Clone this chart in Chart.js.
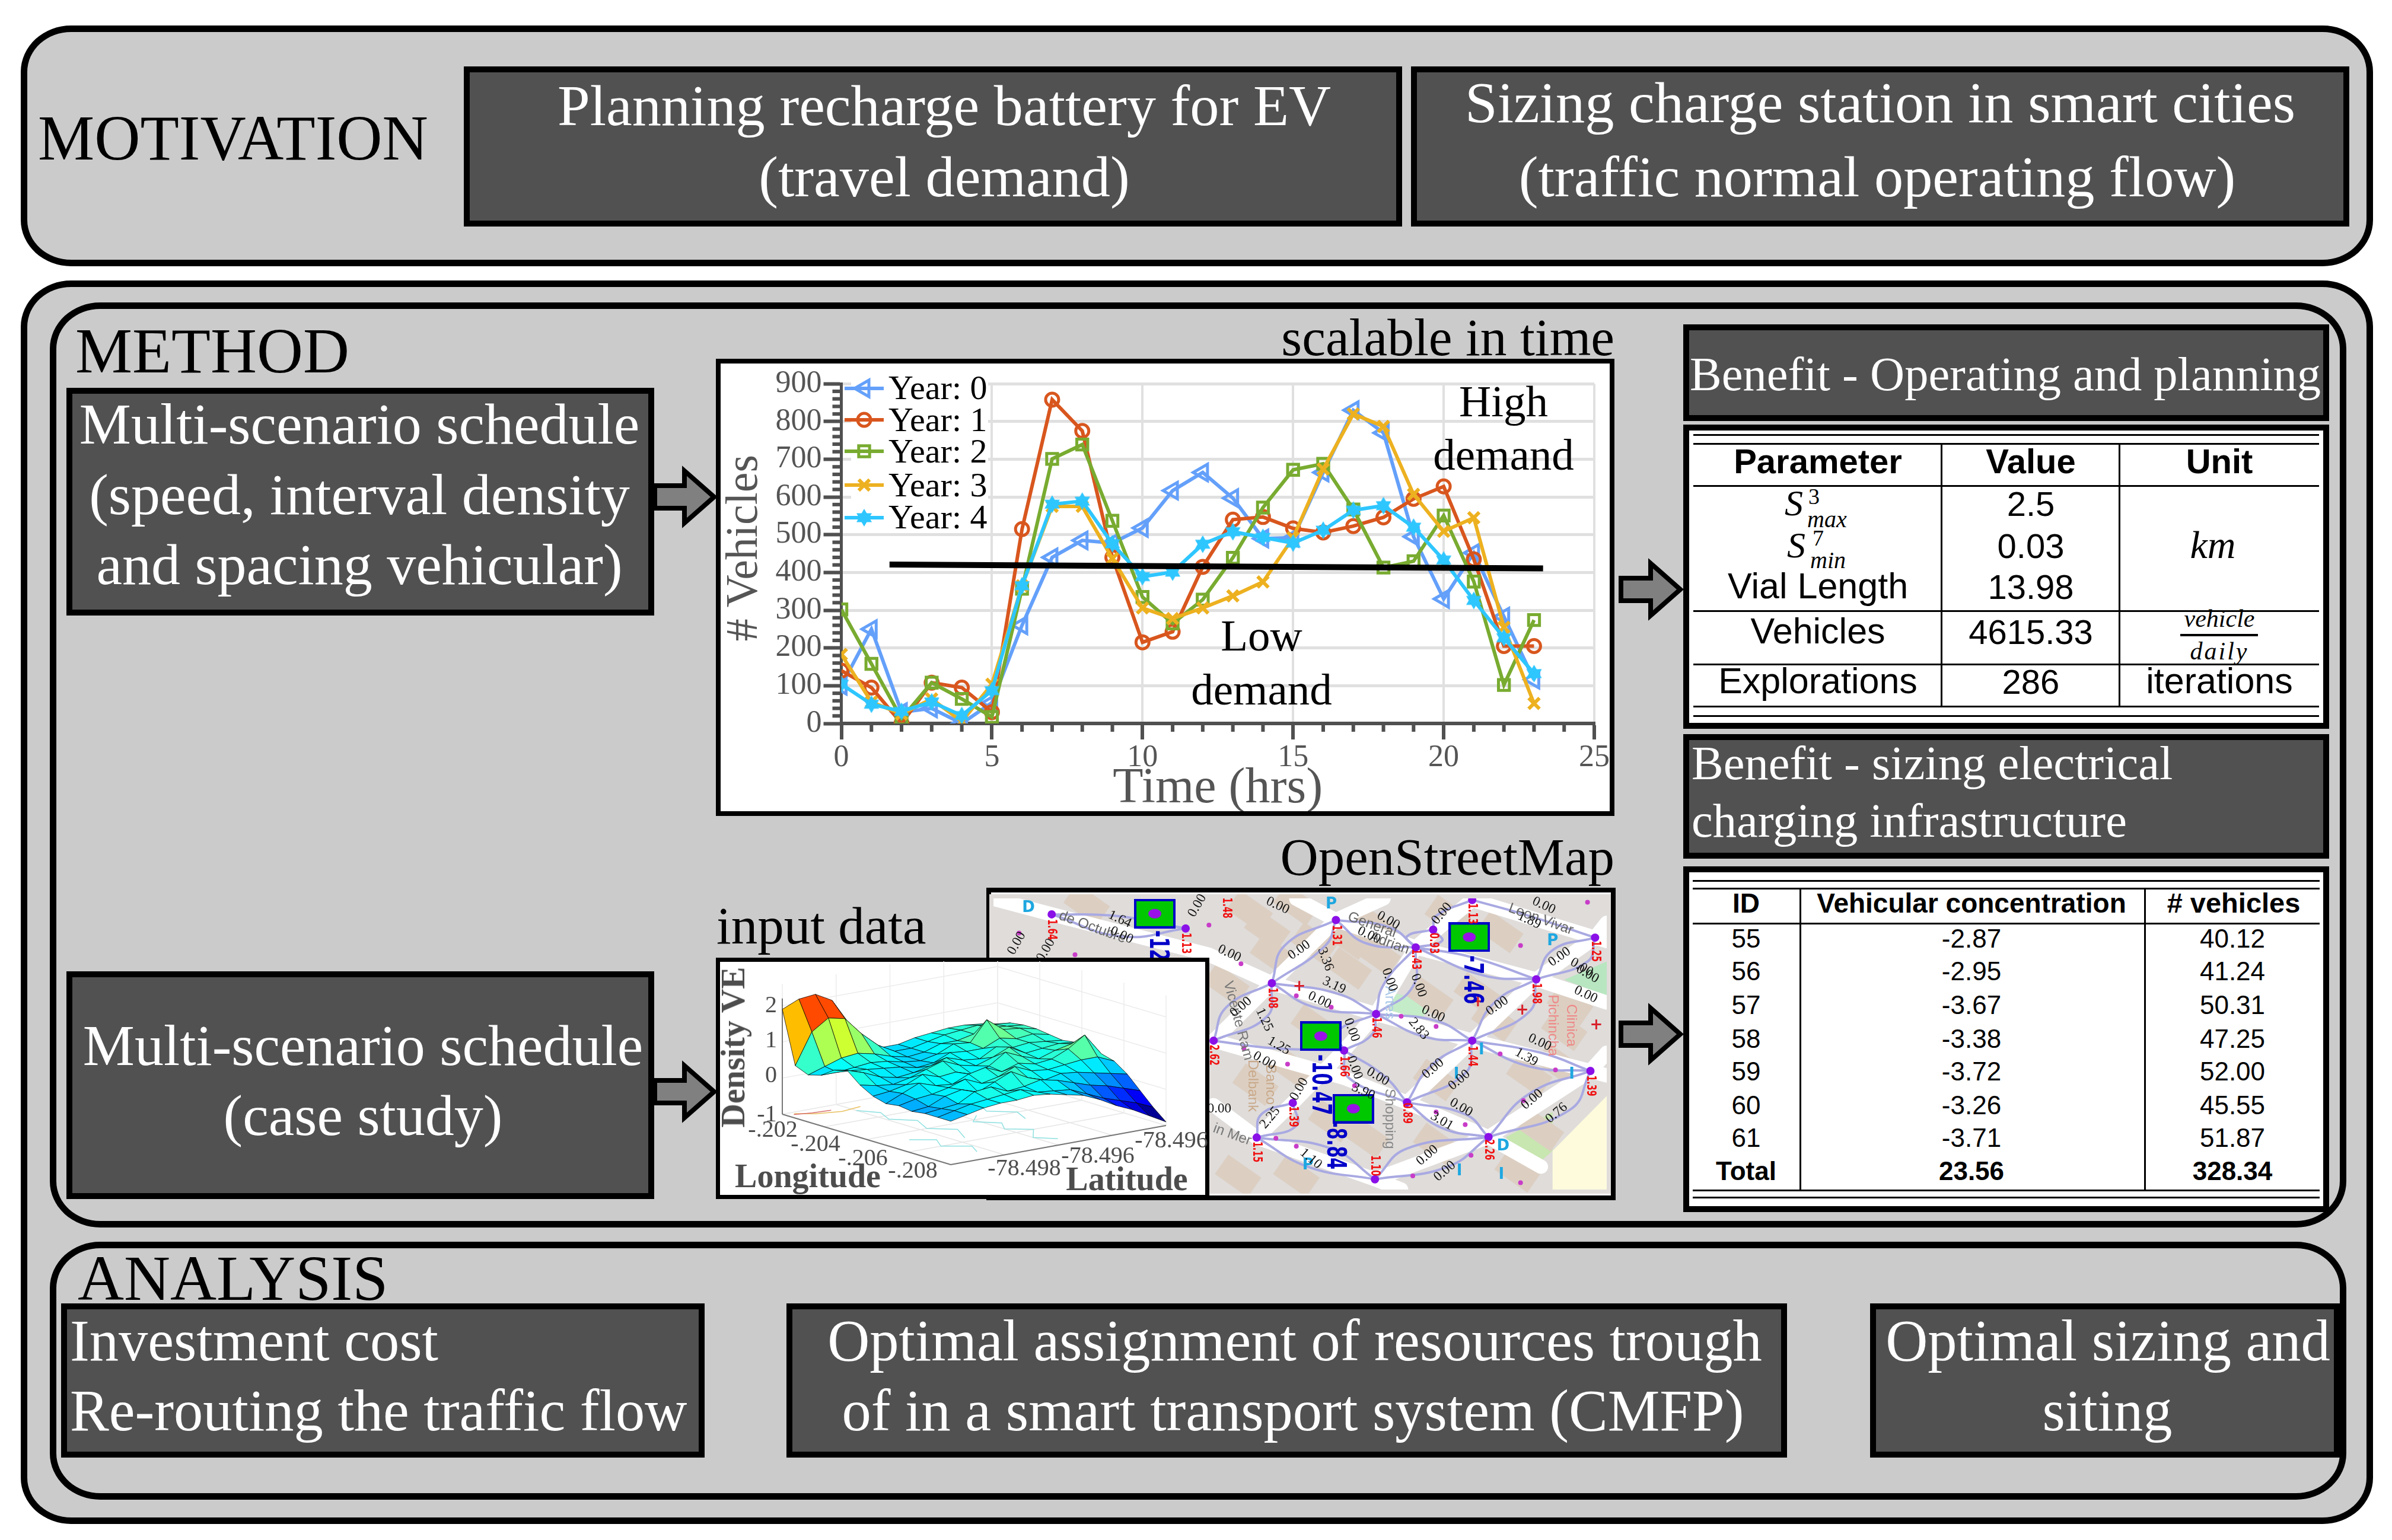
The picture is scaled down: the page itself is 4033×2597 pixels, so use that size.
<!DOCTYPE html>
<html>
<head>
<meta charset="utf-8">
<title>Motivation, method and analysis</title>
<script src="https://cdn.jsdelivr.net/npm/chart.js@4/dist/chart.umd.js"></script>
<style>
  html, body { margin: 0; padding: 0; background: #fff; }
  #page { position: relative; width: 4033px; height: 2597px; overflow: hidden; }
  .box { position: absolute; box-sizing: border-box; border-style: solid; border-color: #000; }
  .txt { position: absolute; white-space: pre; line-height: 1; }
  canvas { position: absolute; }
</style>
</head>
<body>
<div id="page"></div>
<script>
// vehicles per hour for each year
const hours = [0, 1, 2, 3, 4, 5, 6, 7, 8, 9, 10, 11, 12, 13, 14, 15, 16, 17, 18, 19, 20, 21, 22, 23];
const year0 = [100, 250, 30, 40, 0, 55, 260, 440, 485, 478, 518, 617, 665, 597, 490, 492, 665, 830, 770, 495, 330, 452, 283, 116];
const year1 = [140, 95, 0, 108, 95, 30, 515, 858, 775, 440, 215, 243, 415, 540, 547, 517, 506, 523, 546, 595, 628, 435, 205, 205];
const year2 = [302, 158, 13, 108, 65, 17, 357, 701, 739, 537, 335, 265, 328, 439, 572, 672, 688, 567, 413, 430, 551, 376, 102, 274];
const year3 = [183, 57, 25, 65, 5, 104, 365, 575, 575, 437, 306, 278, 306, 338, 375, 492, 674, 820, 787, 607, 509, 545, 255, 53];
const year4 = [104, 51, 32, 57, 21, 87, 365, 581, 589, 476, 389, 401, 475, 508, 493, 478, 512, 565, 577, 520, 433, 326, 227, 132];
const yearNames = ["Year: 0", "Year: 1", "Year: 2", "Year: 3", "Year: 4"];
const demandLineHours = [1.6, 23.3];
const demandLineValues = [421, 411];

// table 1
const paramRows = ["Vial Length", "Vehicles", "Explorations"];
const paramValues = ["2.5", "0.03", "13.98", "4615.33", "286"];

// table 2
const stationIds = ["55", "56", "57", "58", "59", "60", "61"];
const stationConcentration = ["-2.87", "-2.95", "-3.67", "-3.38", "-3.72", "-3.26", "-3.71"];
const stationVehicles = ["40.12", "41.24", "50.31", "47.25", "52.00", "45.55", "51.87"];
const stationTotals = ["Total", "23.56", "328.34"];

// density surface, one row per longitude step, one column per latitude step
const density = [
  [1.9, 2.1, 2.15, 1.9, 1.2, .7, .35, .35, .45, .5, .55, .55, .5, .4],
  [.45, 1.3, 1.6, 1.5, 1.0, .6, .35, .35, .45, .55, .6, .65, .6, .55],
  [.3, .45, .6, .65, .55, .4, .3, .35, .5, .5, .6, .7, .65, .6],
  [.4, .4, .45, .5, .45, .35, .3, .4, .6, .55, 1.1, .75, .7, .6],
  [.65, .55, .5, .45, .4, .3, .35, .55, .5, .5, .7, .6, .65, .55],
  [.75, .6, .4, .3, .35, .45, .6, .45, .4, .65, .55, .6, .55, .5],
  [.45, .35, .3, .4, .55, .7, .5, .4, .55, .75, .5, .55, .6, .55],
  [.25, .3, .4, .6, .45, .5, .35, .5, .8, .6, .45, .6, .7, .45],
  [.15, .35, .55, .4, .35, .55, .65, .45, .6, .5, .55, .75, 1.05, .45],
  [.2, .3, .35, .45, .6, .4, .5, .7, .5, .45, .5, .55, .55, .35],
  [.15, .2, .4, .5, .35, .55, .75, .5, .35, .45, .4, .3, .2, .1],
  [.2, .25, .3, .55, .6, .4, .45, .55, .45, .3, .15, .05, -.1, -.25],
  [.2, .3, .4, .45, .5, .55, .4, .35, .3, .1, -.1, -.25, -.4, -.6],
  [.2, .3, .4, .45, .45, .5, .45, .35, .25, .05, -.2, -.4, -.65, -.9]
];
// contour lines on the floor of the surface plot (longitude step, latitude step as 0-1)
const floorContours = [
  [[.12, .25], [.2, .3], [.3, .26], [.38, .33], [.5, .28], [.58, .36], [.7, .3]],
  [[.45, .55], [.52, .48], [.6, .55], [.68, .5], [.75, .58], [.85, .5], [.92, .56]],
  [[.6, .12], [.66, .2], [.75, .15], [.82, .24], [.9, .2]],
  [[.25, .6], [.33, .66], [.42, .62], [.5, .7], [.6, .66]]
];
const floorContoursWarm = [[[.02, .04], [.07, .1], [.1, .2], [.08, .3]], [[.03, .03], [.05, .1], [.06, .18]]];

// street map: nodes, roads and labels in map units
const mapNodes = [[580, 293], [810, 355], [1068, 318], [1205, 438], [1235, 360], [1302, 230], [1513, 395], [1412, 578], [958, 595], [1137, 730], [1302, 847], [858, 847], [1082, 890], [1505, 980], [1190, 1118], [994, 1120], [932, 1272], [1330, 1270], [1135, 1455]];
const mapRoads = [
  [[480, 225], [580, 293], [850, 470], [958, 595], [1137, 730], [1302, 847], [1505, 980], [1533, 1000]],
  [[858, 847], [1082, 1010], [1190, 1118], [1330, 1270], [1420, 1400]],
  [[1000, 225], [1068, 318], [1205, 438], [1412, 578], [1533, 680]],
  [[1302, 230], [1513, 395], [1533, 410]],
  [[858, 1130], [932, 1272], [1135, 1455], [1180, 1500]],
  [[958, 595], [1068, 318], [1150, 223]],
  [[858, 847], [958, 595]],
  [[1137, 730], [1205, 438], [1302, 230]],
  [[994, 1120], [1082, 890], [1137, 730]],
  [[1190, 1118], [1302, 847], [1412, 578], [1513, 395], [1533, 330]],
  [[1330, 1270], [1505, 980], [1533, 900]],
  [[1135, 1455], [1330, 1270]],
  [[932, 1272], [994, 1120]]
];
const mapEdges = [
  [[580, 293], [700, 390], [810, 355]], [[580, 293], [690, 300], [810, 355]],
  [[958, 595], [1050, 430], [1068, 318]], [[958, 595], [980, 430], [1068, 318]],
  [[1068, 318], [1120, 420], [1205, 438]], [[1068, 318], [1160, 350], [1205, 438]],
  [[1205, 438], [1150, 600], [1137, 730]], [[1205, 438], [1200, 610], [1137, 730]],
  [[1205, 438], [1320, 560], [1412, 578]], [[1205, 438], [1300, 480], [1412, 578]],
  [[1412, 578], [1440, 450], [1513, 395]], [[1412, 578], [1500, 500], [1513, 395]],
  [[1302, 230], [1240, 300], [1235, 360]], [[1302, 230], [1400, 300], [1513, 395]],
  [[958, 595], [1030, 700], [1137, 730]], [[958, 595], [1070, 640], [1137, 730]],
  [[1137, 730], [1220, 830], [1302, 847]], [[1137, 730], [1240, 760], [1302, 847]],
  [[1302, 847], [1340, 680], [1412, 578]], [[1302, 847], [1400, 720], [1412, 578]],
  [[1302, 847], [1400, 960], [1505, 980]], [[1302, 847], [1420, 900], [1505, 980]],
  [[958, 595], [880, 700], [858, 847]], [[958, 595], [950, 740], [858, 847]],
  [[858, 847], [960, 880], [1082, 890]], [[1137, 730], [1130, 820], [1082, 890]], [[1137, 730], [1070, 810], [1082, 890]],
  [[1190, 1118], [1290, 990], [1302, 847]], [[1190, 1118], [1230, 960], [1302, 847]],
  [[1190, 1118], [1250, 1230], [1330, 1270]], [[1190, 1118], [1290, 1170], [1330, 1270]],
  [[1330, 1270], [1400, 1080], [1505, 980]], [[1330, 1270], [1470, 1150], [1505, 980]],
  [[1135, 1455], [1190, 1320], [1330, 1270]], [[1135, 1455], [1260, 1400], [1330, 1270]],
  [[932, 1272], [1060, 1320], [1135, 1455]], [[932, 1272], [1020, 1400], [1135, 1455]],
  [[932, 1272], [940, 1170], [994, 1120]], [[932, 1272], [1000, 1220], [994, 1120]],
  [[1082, 890], [1090, 1010], [1190, 1118]], [[1082, 890], [1150, 1000], [1190, 1118]],
  [[1235, 360], [1190, 390], [1205, 438]], [[1235, 360], [1250, 410], [1205, 438]]
];
const mapStops = [[524, 375], [620, 470], [850, 340], [905, 510], [1000, 650], [1060, 700], [1180, 740], [1240, 785], [1350, 905], [1445, 975], [910, 880], [985, 950], [1100, 1045], [1240, 1160], [1290, 1215], [965, 1275], [1000, 1310], [1300, 1350], [1200, 1440], [1385, 430], [1500, 240], [1390, 1110], [1385, 1470]];
const mapBlocks = [[640, 250], [920, 280], [1000, 250], [950, 360], [1030, 420], [1130, 340], [960, 470], [1090, 530], [1140, 470], [1260, 300], [1350, 370], [1310, 640], [1470, 690], [1030, 780], [1230, 660], [1340, 760], [1460, 800], [930, 1040], [1000, 980], [1240, 1020], [1400, 1000], [1450, 950], [1060, 1200], [1120, 1270], [1240, 1300], [1420, 1240], [1380, 1420], [1000, 1440], [900, 1440], [1090, 400], [880, 600]];
const mapParks = [
  [[1170, 640], [1235, 680], [1215, 750], [1160, 720]],
  [[1460, 580], [1533, 500], [1533, 650]],
  [[1360, 1270], [1440, 1160], [1440, 1330], [1400, 1420]],
  [[1440, 1330], [1533, 1090], [1533, 1500], [1440, 1500]]
];
const edgeLabels = [[697, 315, "1.64", 25], [700, 385, "0.00", 25], [520, 420, "0.00", -60], [570, 450, "0.00", -60], [830, 255, "0.00", -60], [885, 465, "0.00", 25], [968, 255, "0.00", 25], [1005, 450, "0.00", -35], [1050, 490, "3.36", 70], [1158, 320, "0.00", 30], [1125, 385, "0.00", 25], [1250, 290, "0.00", -50], [1425, 255, "0.00", 25], [1400, 320, "1.89", 25], [1452, 480, "0.00", -35], [1065, 605, "3.19", 25], [1040, 670, "0.00", 25], [1160, 580, "0.00", 70], [1210, 605, "0.00", 70], [1235, 730, "0.00", 25], [1497, 645, "0.00", 25], [1345, 695, "0.00", -35], [905, 700, "0.00", -40], [945, 755, "1.25", 65], [1210, 795, "2.83", 50], [1095, 800, "0.00", 70], [970, 870, "1.25", 30], [1418, 855, "0.00", 25], [1395, 920, "1.39", 30], [945, 935, "0.00", 30], [1140, 1005, "0.00", 30], [1100, 965, "0.00", 70], [1235, 970, "0.00", -40], [1280, 1020, "0.00", -40], [1005, 1060, "0.00", -60], [1115, 1070, "3.90", 25], [1283, 1140, "0.00", 30], [1405, 1105, "0.00", -40], [1250, 1200, "3.01", 30], [1447, 1165, "0.76", -40], [955, 1185, "2.25", -50], [1225, 1350, "0.00", -40], [1255, 1420, "0.00", -40], [1025, 1365, "1.10", 40], [868, 1145, "0.00", 0], [1500, 555, "0.00", 30], [1490, 525, "0.00", 30]];
const nodeLabels = [[580, 360, "1.64"], [810, 420, "1.13"], [1068, 385, "1.31"], [1205, 490, "1.43"], [1235, 420, "0.93"], [1302, 290, "1.13"], [1513, 455, "1.25"], [1412, 640, "1.98"], [958, 660, "1.08"], [1137, 790, "1.46"], [1302, 915, "1.44"], [858, 910, "2.62"], [1082, 960, "1.66"], [1505, 1045, "1.39"], [1190, 1165, "0.89"], [994, 1180, "1.39"], [932, 1335, "1.15"], [1330, 1325, "2.26"], [1135, 1395, "1.10"], [880, 265, "1.48"]];
const streetLabels = [[650, 350, "de Octubre", 20, "#666"], [1130, 340, "General", 20, "#666"], [1160, 420, "Adrian", 20, "#666"], [1420, 315, "Leon Vivar", 20, "#666"], [900, 760, "Vicente Ram", 75, "#777"], [1440, 780, "Pichincha", 90, "#e88"], [1472, 780, "Clinica", 90, "#e88"], [925, 1045, "Delbank", 90, "#c9a98a"], [955, 1040, "Banco", 90, "#c9a98a"], [1160, 1190, "Shopping", 90, "#888"], [1160, 680, "Artes", 90, "#a9c8e8"], [890, 1260, "in Mer", 20, "#777"]];
const mapIcons = [[540, 265, "D", "#1ea7e0"], [1060, 250, "P", "#1ea7e0"], [1440, 410, "P", "#1ea7e0"], [1020, 1395, "P", "#1ea7e0"], [1355, 1310, "D", "#1ea7e0"], [1318, 890, "I", "#1ea7e0"], [1275, 995, "I", "#1ea7e0"], [1473, 995, "I", "#1ea7e0"], [1280, 1420, "I", "#1ea7e0"], [1352, 1435, "I", "#1ea7e0"], [1005, 610, "+", "#d8202a"], [1388, 715, "+", "#d8202a"], [1515, 780, "+", "#d8202a"], [1312, 680, "+", "#d8202a"]];
const stationMarkers = [[757, 290], [1297, 393], [1042, 827], [1098, 1145]];
const stationLabels = [[760, 470, "-12.0"], [1300, 580, "-7.46"], [1040, 1040, "-10.47"], [1065, 1305, "-8.84"]];

const page = document.getElementById("page");

// draw a bordered rectangle on the page
function box(x0, y0, x1, y1, bg, border, radius) {
  const d = document.createElement("div");
  d.className = "box";
  d.style.left = x0 + "px";
  d.style.top = y0 + "px";
  d.style.width = (x1 - x0) + "px";
  d.style.height = (y1 - y0) + "px";
  d.style.background = bg;
  d.style.borderWidth = border + "px";
  if (radius) d.style.borderRadius = radius;
  page.appendChild(d);
}

// text with its baseline at y; align is left, center or right
function text(str, x, y, size, color, align, extra) {
  const d = document.createElement("div");
  d.className = "txt";
  d.textContent = str;
  d.style.left = x + "px";
  d.style.top = (y - 0.81 * size) + "px";
  d.style.fontSize = size + "px";
  d.style.fontFamily = "'Liberation Serif'";
  d.style.color = color;
  if (align == "center") d.style.transform = "translateX(-50%)";
  if (align == "right") d.style.transform = "translateX(-100%)";
  if (extra) Object.assign(d.style, extra);
  page.appendChild(d);
  return d;
}

function sans(str, x, y, size, bold) {
  const d = text(str, x, y, size, "#000", "center", { fontFamily: "'Liberation Sans'", fontWeight: bold ? "bold" : "normal" });
  d.style.top = (y - 0.8 * size) + "px";
}

function hline(x0, x1, y, w) { box(x0, y, x1, y + w, "#000", 0); }
function vline(x, y0, y1, w) { box(x, y0, x + w, y1, "#000", 0); }

// block arrow pointing right, drawn as svg
function arrow(x0, x1, cy) {
  const svgNS = "http://www.w3.org/2000/svg";
  const svg = document.createElementNS(svgNS, "svg");
  svg.setAttribute("width", x1 - x0 + 20);
  svg.setAttribute("height", 120);
  svg.style.position = "absolute";
  svg.style.left = (x0 - 10) + "px";
  svg.style.top = (cy - 60) + "px";
  const p = document.createElementNS(svgNS, "polygon");
  const w = x1 - x0;
  const head = w - 50;
  p.setAttribute("points", `10,41 ${10 + head},41 ${10 + head},16 ${10 + w},60 ${10 + head},104 ${10 + head},79 10,79`);
  p.setAttribute("fill", "#808080");
  p.setAttribute("stroke", "#000");
  p.setAttribute("stroke-width", "8");
  svg.appendChild(p);
  page.appendChild(svg);
}

const panelFill = "#cbcbcb";
const darkFill = "#515151";
const corner = "85px / 78px";

// panels
box(35, 43, 4001, 449, panelFill, 11, corner);
box(35, 473, 4001, 2570, panelFill, 11, corner);
box(84, 510, 3956, 2070, panelFill, 11, corner);
box(84, 2094, 3956, 2529, panelFill, 11, corner);

// motivation
text("MOTIVATION", 64, 267, 107, "#000");
box(782, 112, 2364, 382, darkFill, 10);
box(2379, 112, 3961, 382, darkFill, 10);
text("Planning recharge battery for EV", 1592, 209, 98.4, "#fff", "center");
text("(travel demand)", 1592, 329, 98.4, "#fff", "center");
text("Sizing charge station in smart cities", 3170, 204, 98.4, "#fff", "center");
text("(traffic normal operating flow)", 3165, 329, 98.4, "#fff", "center");

// method, left side
text("METHOD", 127, 625, 108, "#000");
box(112, 654, 1103, 1038, darkFill, 10);
text("Multi-scenario schedule", 606, 745, 98, "#fff", "center");
text("(speed, interval density", 606, 864, 98, "#fff", "center");
text("and spacing vehicular)", 606, 982, 98, "#fff", "center");
box(112, 1638, 1103, 2022, darkFill, 10);
text("Multi-scenario schedule", 612, 1793, 98, "#fff", "center");
text("(case study)", 612, 1911, 98, "#fff", "center");
arrow(1104, 1204, 838);
arrow(1104, 1204, 1841);
arrow(2733, 2833, 994);
arrow(2733, 2833, 1744);

// line chart frame
text("scalable in time", 2722, 596, 89.5, "#000", "right");
box(1207, 605, 2722, 1376, "#fff", 8);

// map frame and surface frame
text("OpenStreetMap", 2722, 1473, 89, "#000", "right");
text("input data", 1208, 1589, 89, "#000");
box(1663, 1497, 2724, 2024, "#fff", 8);
const mapCanvas = document.createElement("canvas");
mapCanvas.width = 1048; mapCanvas.height = 505;
mapCanvas.style.cssText = "left:1668px;top:1508px;width:1048px;height:505px";
page.appendChild(mapCanvas);
box(1207, 1615, 2039, 2022, "#fff", 7);
const surfaceCanvas = document.createElement("canvas");
surfaceCanvas.width = 820; surfaceCanvas.height = 395;
surfaceCanvas.style.cssText = "left:1213px;top:1621px;width:820px;height:395px";
page.appendChild(surfaceCanvas);
const lineCanvas = document.createElement("canvas");
lineCanvas.width = 1499; lineCanvas.height = 755;
lineCanvas.style.cssText = "left:1215px;top:613px;width:1499px;height:755px";
page.appendChild(lineCanvas);

// surface labels
const grey = "#4d4d4d";
const densityLabel = text("Density VE", 1236, 1766, 56, grey, "left", { fontWeight: "bold" });
densityLabel.style.left = "1236px";
densityLabel.style.top = "1766px";
densityLabel.style.transform = "translate(-50%,-50%) rotate(-90deg)";
text("2", 1300, 1706, 40, grey, "center");
text("1", 1300, 1765, 40, grey, "center");
text("0", 1300, 1824, 40, grey, "center");
text("-1", 1293, 1890, 40, grey, "center");
text("-.202", 1303, 1916, 40, grey, "center");
text("-.204", 1375, 1940, 40, grey, "center");
text("-.206", 1455, 1964, 40, grey, "center");
text("-.208", 1539, 1985, 40, grey, "center");
text("-78.498", 1727, 1981, 40, grey, "center");
text("-78.496", 1851, 1960, 40, grey, "center");
text("-78.496", 1975, 1934, 40, grey, "center");
text("Longitude", 1362, 2000, 56, grey, "center", { fontWeight: "bold" });
text("Latitude", 1900, 2005, 56, grey, "center", { fontWeight: "bold" });

// benefit 1
box(2838, 547, 3927, 710, darkFill, 10);
text("Benefit - Operating and planning", 2849, 656, 80.5, "#fff");
box(2838, 716, 3927, 1229, "#fff", 10);
hline(2855, 3910, 732, 3);
hline(2855, 3910, 747, 3);
hline(2855, 3910, 818, 3);
hline(2855, 3910, 1029, 3);
hline(2855, 3910, 1119, 3);
hline(2855, 3910, 1190, 3);
hline(2855, 3910, 1206, 3);
vline(3272, 749, 1191, 3);
vline(3572, 749, 1191, 3);
sans("Parameter", 3065, 795, 58, true);
sans("Value", 3424, 795, 58, true);
sans("Unit", 3742, 795, 58, true);
const serifItalic = { fontStyle: "italic" };
text("S", 3009, 867, 62, "#000", "left", serifItalic);
text("3", 3049, 849, 38, "#000");
text("max", 3047, 888, 40, "#000", "left", serifItalic);
text("S", 3013, 938, 62, "#000", "left", serifItalic);
text("7", 3056, 919, 38, "#000");
text("min", 3052, 957, 40, "#000", "left", serifItalic);
sans(paramRows[0], 3065, 1007, 61);
sans(paramRows[1], 3065, 1083, 61);
sans(paramRows[2], 3065, 1167, 61);
sans(paramValues[0], 3424, 867, 58);
sans(paramValues[1], 3424, 938, 58);
sans(paramValues[2], 3424, 1007, 58);
sans(paramValues[3], 3424, 1083, 58);
sans(paramValues[4], 3424, 1167, 58);
text("km", 3731, 939, 66, "#000", "center", serifItalic);
text("vehicle", 3742, 1056, 42, "#000", "center", serifItalic);
hline(3676, 3807, 1069, 4);
text("daily", 3742, 1111, 42, "#000", "center", Object.assign({ letterSpacing: "3px" }, serifItalic));
sans("iterations", 3742, 1167, 61);

// benefit 2
box(2838, 1238, 3927, 1448, darkFill, 10);
text("Benefit - sizing electrical", 2852, 1312, 80.5, "#fff");
text("charging infrastructure", 2852, 1409, 80.5, "#fff");
box(2838, 1461, 3927, 2044, "#fff", 10);
hline(2854, 3911, 1484, 3);
hline(2854, 3911, 1497, 3);
hline(2854, 3911, 1556, 3);
hline(2854, 3911, 2006, 3);
hline(2854, 3911, 2018, 3);
vline(3034, 1498, 2007, 3);
vline(3615, 1498, 2007, 3);
sans("ID", 2944, 1537, 46, true);
sans("Vehicular concentration", 3324, 1537, 46, true);
sans("# vehicles", 3766, 1537, 47, true);
const stationRowBase = [1596, 1651, 1708, 1765, 1820, 1877, 1932];
stationIds.forEach((id, i) => {
  sans(id, 2944, stationRowBase[i], 44);
  sans(stationConcentration[i], 3324, stationRowBase[i], 44);
  sans(stationVehicles[i], 3764, stationRowBase[i], 44);
});
sans(stationTotals[0], 2944, 1988, 44, true);
sans(stationTotals[1], 3324, 1988, 44, true);
sans(stationTotals[2], 3764, 1988, 44, true);

// analysis
text("ANALYSIS", 131, 2189, 108, "#000");
box(103, 2198, 1188, 2458, darkFill, 10);
box(1326, 2198, 3013, 2458, darkFill, 10);
box(3153, 2198, 3945, 2458, darkFill, 10);
text("Investment cost", 118, 2292, 98.5, "#fff");
text("Re-routing the traffic flow", 118, 2410, 98.5, "#fff");
text("Optimal assignment of resources trough", 2183, 2292, 98.5, "#fff", "center");
text("of in a smart transport system (CMFP)", 2180, 2410, 98.5, "#fff", "center");
text("Optimal sizing and", 3554, 2292, 98.5, "#fff", "center");
text("siting", 3553, 2410, 98.5, "#fff", "center");

// custom point for year 4, a filled six point star
function starMarker(color, r) {
  const c = document.createElement("canvas");
  c.width = c.height = r * 2 + 2;
  const ctx = c.getContext("2d");
  ctx.fillStyle = color;
  for (const off of [0, Math.PI]) {
    ctx.beginPath();
    for (let i = 0; i < 3; i++) {
      const a = off - Math.PI / 2 + i * 2 * Math.PI / 3;
      const px = r + 1 + r * Math.cos(a);
      const py = r + 1 + r * Math.sin(a);
      if (i == 0) ctx.moveTo(px, py); else ctx.lineTo(px, py);
    }
    ctx.closePath();
    ctx.fill();
  }
  return c;
}

// station marker on the map, green rectangle with a purple dot
function stationMarker() {
  const c = document.createElement("canvas");
  c.width = 70; c.height = 50;
  const ctx = c.getContext("2d");
  ctx.fillStyle = "#00c800";
  ctx.strokeStyle = "#0000c8";
  ctx.lineWidth = 4;
  ctx.fillRect(2, 2, 66, 46);
  ctx.strokeRect(2, 2, 66, 46);
  ctx.fillStyle = "#9a10e8";
  ctx.beginPath();
  ctx.ellipse(35, 25, 11, 8, 0, 0, 2 * Math.PI);
  ctx.fill();
  return c;
}

const seriesStyle = [
  { data: year0, color: "#64a0fa", pointStyle: "triangle", radius: 16, rotation: -90, width: 5 },
  { data: year1, color: "#d8561e", pointStyle: "circle", radius: 11, rotation: 0, width: 5 },
  { data: year2, color: "#78ab30", pointStyle: "rect", radius: 13, rotation: 0, width: 5 },
  { data: year3, color: "#edb120", pointStyle: "crossRot", radius: 13, rotation: 0, width: 6 },
  { data: year4, color: "#2ec6ff", pointStyle: starMarker("#2ec6ff", 15), radius: 15, rotation: 0, width: 3 }
];

const lineDatasets = seriesStyle.map((s, i) => ({
  label: yearNames[i],
  data: hours.map((h, j) => ({ x: h, y: s.data[j] })),
  borderColor: s.color,
  borderWidth: 6,
  backgroundColor: s.color,
  pointStyle: s.pointStyle,
  pointRadius: s.radius,
  pointRotation: s.rotation,
  pointBorderWidth: s.width,
  pointBorderColor: s.color,
  pointBackgroundColor: "transparent",
  order: 4 - i
}));
lineDatasets.push({
  label: "threshold",
  data: demandLineHours.map((h, j) => ({ x: h, y: demandLineValues[j] })),
  borderColor: "#000",
  borderWidth: 10,
  pointRadius: 0,
  order: -1
});

// legend inside the plot and the small axis ticks
const lineChartExtras = {
  id: "lineChartExtras",
  beforeDatasetsDraw(chart) {
    // legend background hides the grid under it
    chart.ctx.save();
    chart.ctx.fillStyle = "#fff";
    chart.ctx.fillRect(220, 32, 231, 252);
    chart.ctx.restore();
  },
  afterDraw(chart) {
    const ctx = chart.ctx;
    const x = chart.scales.x;
    const y = chart.scales.y;
    ctx.save();
    ctx.fillStyle = "#505050";
    for (let v = 0; v <= 25; v++) {
      if (v % 5 != 0) ctx.fillRect(x.getPixelForValue(v) - 3, y.bottom, 6, 14);
    }
    for (let v = 0; v <= 900; v += 20) {
      if (v % 100 != 0) ctx.fillRect(x.left - 15, y.getPixelForValue(v) - 3, 15, 6);
    }
    const rows = [42, 95, 148, 205, 260];
    const bases = [60, 114, 167, 224, 278];
    lineDatasets.slice(0, 5).forEach((d, i) => {
      ctx.strokeStyle = d.borderColor;
      ctx.fillStyle = d.borderColor;
      ctx.lineWidth = 6;
      ctx.beginPath();
      ctx.moveTo(209, rows[i]);
      ctx.lineTo(275, rows[i]);
      ctx.stroke();
      ctx.lineWidth = d.pointBorderWidth;
      ctx.fillStyle = "transparent";
      Chart.helpers.drawPoint(ctx, { pointStyle: d.pointStyle, radius: d.pointRadius, rotation: d.pointRotation, borderWidth: d.pointBorderWidth }, 242, rows[i]);
      ctx.fillStyle = "#000";
      ctx.font = "58px 'Liberation Serif'";
      ctx.textBaseline = "alphabetic";
      ctx.fillText(d.label, 283, bases[i]);
    });
    // demand captions
    ctx.font = "75px 'Liberation Serif'";
    ctx.textAlign = "center";
    ctx.fillText("High", 1320, 89);
    ctx.fillText("demand", 1320, 179);
    ctx.fillText("Low", 912, 484);
    ctx.fillText("demand", 912, 575);
    ctx.restore();
  }
};

new Chart(lineCanvas, {
  type: "line",
  data: { datasets: lineDatasets },
  plugins: [lineChartExtras],
  options: {
    responsive: false,
    animation: false,
    devicePixelRatio: 1,
    layout: { padding: { top: 24, right: 25, left: 0, bottom: 0 } },
    plugins: { legend: { display: false }, tooltip: { enabled: false } },
    scales: {
      x: {
        type: "linear",
        min: 0,
        max: 25,
        afterFit: (s) => { s.height = 148; },
        ticks: { stepSize: 5, autoSkip: false, color: "#555", padding: 0, maxRotation: 0, font: { family: "Liberation Serif", size: 52 } },
        grid: { color: "#e0e0e0", lineWidth: 4, tickColor: "#505050", tickWidth: 6, tickLength: 27 },
        border: { color: "#505050", width: 6 },
        title: { display: true, text: "Time (hrs)", color: "#555", padding: { top: 0, bottom: -5 }, font: { family: "Liberation Serif", size: 84, lineHeight: 1 } }
      },
      y: {
        min: 0,
        max: 900,
        afterFit: (s) => { s.width = 203.5; },
        ticks: { stepSize: 100, autoSkip: false, color: "#555", padding: 3, font: { family: "Liberation Serif", size: 52 } },
        grid: { color: "#e0e0e0", lineWidth: 5, tickColor: "#505050", tickWidth: 6, tickLength: 30 },
        border: { color: "#505050", width: 5 },
        title: { display: true, text: " # Vehicles", color: "#555", padding: { top: 3, bottom: 0 }, font: { family: "Liberation Serif", size: 76, lineHeight: 1 } }
      }
    }
  }
});

// jet colour map for the surface
function jet(t) {
  t = Math.max(0, Math.min(1, t));
  const r = Math.max(0, Math.min(1, 1.5 - Math.abs(4 * t - 3)));
  const g = Math.max(0, Math.min(1, 1.5 - Math.abs(4 * t - 2)));
  const b = Math.max(0, Math.min(1, 1.5 - Math.abs(4 * t - 1)));
  return `rgb(${Math.round(r * 255)},${Math.round(g * 255)},${Math.round(b * 255)})`;
}

// surface: longitude/latitude/density go through a fixed oblique view, then the chart scales
const viewLeft = [1319, 1879];
const viewLong = [284, 85];
const viewLat = [363, -66];
const viewUp = 61;
function project(chart, u, v, z) {
  const px = viewLeft[0] + u * viewLong[0] + v * viewLat[0];
  const py = viewLeft[1] + u * viewLong[1] + v * viewLat[1] - (z + 1) * viewUp;
  return [chart.scales.x.getPixelForValue(px), chart.scales.y.getPixelForValue(py)];
}

const surfacePlugin = {
  id: "surfacePlugin",
  afterDatasetsDraw(chart) {
    const ctx = chart.ctx;
    ctx.save();
    const seg = (a, b, color, w) => {
      ctx.strokeStyle = color;
      ctx.lineWidth = w;
      ctx.beginPath();
      ctx.moveTo(a[0], a[1]);
      ctx.lineTo(b[0], b[1]);
      ctx.stroke();
    };
    // back walls and floor grid
    for (let i = 0; i <= 4; i++) {
      const t = i / 4;
      seg(project(chart, t, 1, -1), project(chart, t, 1, 2.6), "#ececec", 1.5);
      seg(project(chart, 0, t, -1), project(chart, 0, t, 2.6), "#ececec", 1.5);
      seg(project(chart, t, 0, -1), project(chart, t, 1, -1), "#e6e6e6", 1.5);
      seg(project(chart, 0, t, -1), project(chart, 1, t, -1), "#e6e6e6", 1.5);
    }
    for (let i = 0; i <= 3; i++) {
      const z = -1 + i;
      seg(project(chart, 0, 0, z), project(chart, 0, 1, z), "#ececec", 1.5);
      seg(project(chart, 0, 1, z), project(chart, 1, 1, z), "#ececec", 1.5);
    }
    seg(project(chart, 0, 0, -1), project(chart, 0, 0, 2.2), "#777", 2);
    seg(project(chart, 0, 0, -1), project(chart, 1, 0, -1), "#777", 2);
    seg(project(chart, 1, 0, -1), project(chart, 1, 1, -1), "#777", 2);
    // contours on the floor
    const contour = (line, color) => {
      ctx.strokeStyle = color;
      ctx.lineWidth = 1.5;
      ctx.beginPath();
      line.forEach((p, i) => {
        const q = project(chart, p[0], p[1], -1);
        if (i == 0) ctx.moveTo(q[0], q[1]); else ctx.lineTo(q[0], q[1]);
      });
      ctx.stroke();
    };
    floorContours.forEach((l) => contour(l, "#8fe0e0"));
    contour(floorContoursWarm[0], "#e8c060");
    contour(floorContoursWarm[1], "#d87070");
    // mesh cells, back to front
    const nu = density.length - 1;
    const nv = density[0].length - 1;
    for (let j = nv - 1; j >= 0; j--) {
      for (let i = 0; i < nu; i++) {
        const z = (density[i][j] + density[i + 1][j] + density[i][j + 1] + density[i + 1][j + 1]) / 4;
        const a = project(chart, i / nu, j / nv, density[i][j]);
        const b = project(chart, (i + 1) / nu, j / nv, density[i + 1][j]);
        const c = project(chart, (i + 1) / nu, (j + 1) / nv, density[i + 1][j + 1]);
        const d = project(chart, i / nu, (j + 1) / nv, density[i][j + 1]);
        ctx.fillStyle = jet((z + 0.7) / 3.1);
        ctx.strokeStyle = "rgba(0,0,0,.75)";
        ctx.lineWidth = 1;
        ctx.beginPath();
        ctx.moveTo(a[0], a[1]);
        ctx.lineTo(b[0], b[1]);
        ctx.lineTo(c[0], c[1]);
        ctx.lineTo(d[0], d[1]);
        ctx.closePath();
        ctx.fill();
        ctx.stroke();
      }
    }
    ctx.restore();
  }
};

new Chart(surfaceCanvas, {
  type: "scatter",
  data: { datasets: [{ data: [], pointRadius: 0 }] },
  plugins: [surfacePlugin],
  options: {
    responsive: false,
    animation: false,
    devicePixelRatio: 1,
    plugins: { legend: { display: false }, tooltip: { enabled: false } },
    scales: {
      x: { type: "linear", display: false, min: 1213, max: 2033 },
      y: { type: "linear", display: false, min: 1621, max: 2016, reverse: true }
    }
  }
});

// map: blocks and parks under the roads, labels on top
const mapBack = {
  id: "mapBack",
  beforeDatasetsDraw(chart) {
    const ctx = chart.ctx;
    const x = chart.scales.x;
    const y = chart.scales.y;
    ctx.save();
    ctx.fillStyle = "#dfdcda";
    ctx.fillRect(0, 0, chart.width, chart.height);
    const parkColors = ["#c4ecc8", "#b8e6c0", "#c8e6b0", "#fdfbdc"];
    mapParks.forEach((p, i) => {
      ctx.fillStyle = parkColors[i];
      ctx.beginPath();
      p.forEach((q, k) => {
        if (k == 0) ctx.moveTo(x.getPixelForValue(q[0]), y.getPixelForValue(q[1]));
        else ctx.lineTo(x.getPixelForValue(q[0]), y.getPixelForValue(q[1]));
      });
      ctx.closePath();
      ctx.fill();
    });
    ctx.fillStyle = "#dccfc2";
    mapBlocks.forEach((b) => {
      ctx.save();
      ctx.translate(x.getPixelForValue(b[0]), y.getPixelForValue(b[1]));
      ctx.rotate(35 * Math.PI / 180);
      ctx.fillRect(-34, -20, 68, 40);
      ctx.restore();
    });
    ctx.restore();
  }
};

const mapFront = {
  id: "mapFront",
  afterDatasetsDraw(chart) {
    const ctx = chart.ctx;
    const x = chart.scales.x;
    const y = chart.scales.y;
    const put = (str, px, py, deg, font, color, stretch) => {
      ctx.save();
      ctx.translate(x.getPixelForValue(px), y.getPixelForValue(py));
      ctx.rotate(deg * Math.PI / 180);
      if (stretch) ctx.scale(stretch, 1);
      ctx.font = font;
      ctx.fillStyle = color;
      ctx.textAlign = "center";
      ctx.textBaseline = "middle";
      ctx.fillText(str, 0, 0);
      ctx.restore();
    };
    streetLabels.forEach((s) => put(s[2], s[0], s[1], s[3], "24px 'Liberation Sans'", s[4]));
    mapIcons.forEach((s) => put(s[2], s[0], s[1], 0, "bold 26px 'DejaVu Sans'", s[3]));
    edgeLabels.forEach((s) => put(s[2], s[0], s[1], s[3], "23px 'Liberation Serif'", "#111"));
    nodeLabels.forEach((s) => put(s[2], s[0], s[1], 90, "bold 22px 'DejaVu Sans'", "#f01010", 0.65));
    stationLabels.forEach((s) => put(s[2], s[0], s[1], 90, "bold 44px 'DejaVu Sans'", "#0000c8", 0.65));
  }
};

const mapDatasets = [];
mapRoads.forEach((r) => mapDatasets.push({
  data: r.map((p) => ({ x: p[0], y: p[1] })), showLine: true, borderColor: "#fff", borderWidth: 24, pointRadius: 0, order: 5, borderCapStyle: "round", borderJoinStyle: "round"
}));
mapEdges.forEach((r) => mapDatasets.push({
  data: r.map((p) => ({ x: p[0], y: p[1] })), showLine: true, borderColor: "#a9a9e2", borderWidth: 4, tension: 0.45, pointRadius: 0, order: 4
}));
mapDatasets.push({ data: mapStops.map((p) => ({ x: p[0], y: p[1] })), pointRadius: 4, pointBackgroundColor: "#c83cc8", pointBorderWidth: 0, order: 3 });
mapDatasets.push({ data: mapNodes.map((p) => ({ x: p[0], y: p[1] })), pointRadius: 7, pointBackgroundColor: "#8a10e8", pointBorderWidth: 0, order: 2 });
mapDatasets.push({ data: stationMarkers.map((p) => ({ x: p[0], y: p[1] })), pointStyle: stationMarker(), order: 1 });

new Chart(mapCanvas, {
  type: "scatter",
  data: { datasets: mapDatasets },
  plugins: [mapBack, mapFront],
  options: {
    responsive: false,
    animation: false,
    devicePixelRatio: 1,
    plugins: { legend: { display: false }, tooltip: { enabled: false } },
    scales: {
      x: { type: "linear", display: false, min: 480, max: 1533 },
      y: { type: "linear", display: false, min: 223, max: 1500, reverse: true }
    }
  }
});
</script>
</body>
</html>
